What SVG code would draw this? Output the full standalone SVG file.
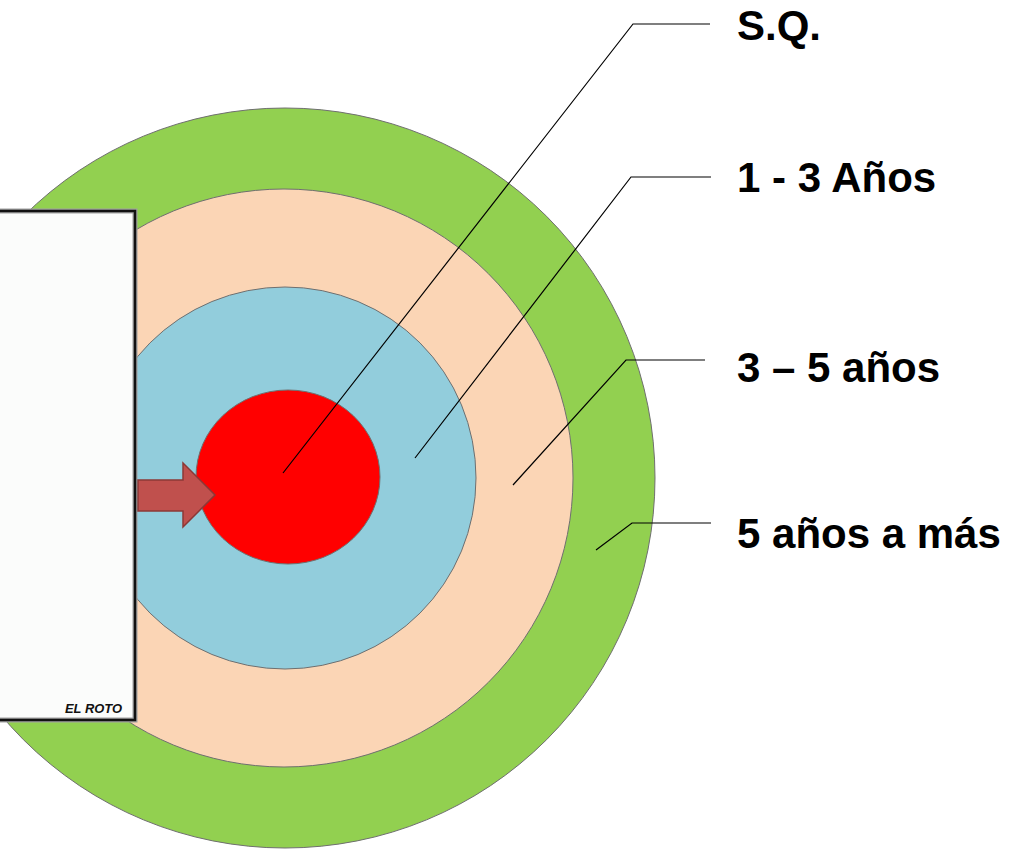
<svg xmlns="http://www.w3.org/2000/svg" width="1019" height="850" viewBox="0 0 1019 850">
<style>
.ring{stroke:#6f6f6f;stroke-width:1}
.lead{fill:none;stroke:#000;stroke-width:1.2}
.lbl{font-family:"Liberation Sans",Arial,sans-serif;font-weight:bold;font-size:42px;fill:#000}
</style>
<rect width="1019" height="850" fill="#fff"/>
<g id="ring-5mas"><circle class="ring" cx="285" cy="478" r="370" fill="#92d050"/></g>
<g id="ring-3-5"><circle class="ring" cx="284" cy="478" r="289" fill="#fbd5b5"/></g>
<g id="ring-1-3"><circle class="ring" cx="285" cy="478" r="191" fill="#92cddc"/></g>
<g id="ring-sq"><ellipse class="ring" cx="288" cy="477" rx="92" ry="87" fill="#ff0000"/></g>
<g id="cartoon">
<rect x="-10" y="211" width="145" height="509" fill="#fbfcfb" stroke="#a0a0a0" stroke-width="5"/>
<rect x="-10" y="211" width="145" height="509" fill="none" stroke="#111" stroke-width="2.5"/>
<text x="65" y="713" font-family="'Liberation Sans',Arial,sans-serif" font-weight="bold" font-style="italic" font-size="12" textLength="57" lengthAdjust="spacingAndGlyphs" fill="#111">EL ROTO</text>
</g>
<g id="arrow">
<path d="M138 480 H183 V463 L215 495 L183 527 V511 H138 Z" fill="#c0504d" stroke="#8c3836" stroke-width="1.5"/>
</g>
<g id="connectors">
<polyline class="lead" points="283,473 633,24 710,24"/>
<polyline class="lead" points="415,458 631,177 711,177"/>
<polyline class="lead" points="513,485 626,360 705,360"/>
<polyline class="lead" points="596,550 632,523 711,523"/>
</g>
<g id="labels">
<text class="lbl" x="737" y="40">S.Q.</text>
<text class="lbl" x="737" y="192">1 - 3 Años</text>
<text class="lbl" x="737" y="382">3 – 5 años</text>
<text class="lbl" x="737" y="548">5 años a más</text>
</g>
</svg>
